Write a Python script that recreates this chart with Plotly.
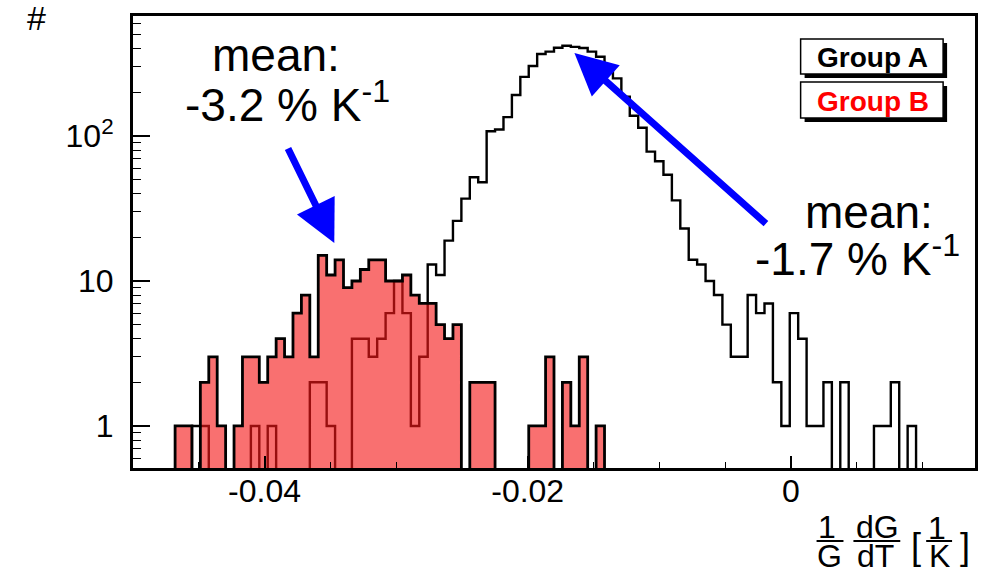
import numpy as np
import plotly.graph_objects as go

# ---------------- data ----------------
x_min, x_max, n_bins = -0.05, 0.014, 100

group_a_counts = [
    0, 0, 0, 0, 0, 0, 0, 1, 1, 0,
    0, 0, 0, 0, 1, 0, 1, 0, 0, 0,
    0, 2, 2, 1, 0, 0, 4, 4, 3, 4,
    6, 10, 6, 1, 3, 13, 11, 19, 26, 37,
    52, 48, 108, 111, 135, 192, 256, 304, 368, 382,
    406, 420, 412, 405, 382, 352, 302, 250, 187, 138,
    114, 78, 67, 54, 36, 23, 14, 13, 10, 8,
    5, 3, 3, 8, 6, 7, 2, 1, 6, 4,
    1, 1, 2, 0, 2, 0, 0, 0, 1, 1,
    2, 0, 1, 0, 0, 0, 0, 0, 0, 0,
]
group_b_counts = [
    0, 0, 0, 0, 0, 1, 1, 0, 2, 3,
    1, 0, 1, 3, 3, 2, 3, 4, 3, 6,
    8, 3, 15, 11, 14, 9, 10, 12, 14, 14,
    10, 10, 11, 8, 7, 7, 5, 4, 5, 0,
    2, 2, 2, 0, 0, 0, 0, 1, 1, 3,
    0, 2, 1, 3, 0, 1, 0, 0, 0, 0,
    0, 0, 0, 0, 0, 0, 0, 0, 0, 0,
    0, 0, 0, 0, 0, 0, 0, 0, 0, 0,
    0, 0, 0, 0, 0, 0, 0, 0, 0, 0,
    0, 0, 0, 0, 0, 0, 0, 0, 0, 0,
]
series_names = ["Group A", "Group B"]
y_tick_vals = [1, 10, 100]
y_tick_text = ["1", "10", "10<sup>2</sup>"]
x_tick_vals = [-0.04, -0.02, 0]
x_tick_text = ["-0.04", "-0.02", "0"]
mean_a_text = "-1.7 % K<sup>-1</sup>"
mean_b_text = "-3.2 % K<sup>-1</sup>"

# ---------------- helpers ----------------
edges = np.linspace(x_min, x_max, n_bins + 1)
FLOOR = 1e-2  # empty bins drawn below the visible range (log axis)


def steps(counts):
    xs, ys = [edges[0]], [FLOOR]
    for i, c in enumerate(counts):
        v = c if c > 0 else FLOOR
        xs += [edges[i], edges[i + 1]]
        ys += [v, v]
    xs.append(edges[-1])
    ys.append(FLOOR)
    return xs, ys


W, H = 989, 577
L, R, T, B = 133, 978, 16, 468


def px(xp):
    return (xp - L) / (R - L)


def py(yp):
    return (B - yp) / (B - T)


FONT = "Liberation Sans, Arial, Helvetica, sans-serif"

fig = go.Figure()

xa, ya = steps(group_a_counts)
fig.add_trace(go.Scatter(x=xa, y=ya, mode="lines", name=series_names[0],
                         line=dict(color="black", width=2.4), showlegend=False))
xb, yb = steps(group_b_counts)
fig.add_trace(go.Scatter(x=xb, y=yb, mode="lines", name=series_names[1],
                         fill="toself", fillcolor="rgba(245,25,25,0.62)",
                         line=dict(color="black", width=2.8), showlegend=False))

ann = []
shapes = []


def text(t, cx, cy, size, color="black", height=None):
    d = dict(x=px(cx), y=py(cy), text=t, showarrow=False,
             xanchor="center", yanchor="middle", borderpad=0,
             font=dict(size=size, color=color, family=FONT))
    if height is not None:
        d["height"] = height
    ann.append(d)


# mean annotations
text("mean:", 277, 55, 46)
text(mean_b_text, 288, 102, 46)
text("mean:", 872, 212, 46)
text(mean_a_text, 860, 256, 46)

# arrows
ann.append(dict(x=px(335), y=py(243), text="",
                showarrow=True, ax=288 - 335, ay=147 - 243, arrowcolor="#0000ff",
                arrowwidth=7, arrowhead=2, arrowsize=1.2))
ann.append(dict(x=px(576), y=py(53), text="",
                showarrow=True, ax=769 - 576, ay=225 - 53, arrowcolor="#0000ff",
                arrowwidth=7, arrowhead=2, arrowsize=1.2))

# y-axis title
text("#", 36, 18, 34)

# x-axis title: (1/G)(dG/dT)[1/K]
for t, cx, cy in [("1", 829, 527), ("G", 832, 556), ("dG", 880, 527), ("dT", 878, 556),
                  ("1", 940, 528), ("K", 942, 556)]:
    text(t, cx, cy, 32, height=26)
for t, cx in [("[", 919), ("]", 968)]:
    text(t, cx, 546, 36)
for x0, x1, yy in [(819, 846, 541), (856, 903, 541), (929, 955, 541)]:
    shapes.append(dict(type="line", xref="paper", yref="paper",
                       x0=px(x0), x1=px(x1), y0=py(yy), y1=py(yy),
                       line=dict(color="black", width=2)))

# legend boxes (ROOT style with shadow)
for (x0, x1, y0, y1), name, col in [((803, 946, 39, 74), series_names[0], "black"),
                                     ((803, 946, 82, 118), series_names[1], "red")]:
    shapes.append(dict(type="rect", xref="paper", yref="paper",
                       x0=px(x0 + 4), x1=px(x1 + 4), y0=py(y0 + 4), y1=py(y1 + 4),
                       fillcolor="black", line=dict(width=0)))
    shapes.append(dict(type="rect", xref="paper", yref="paper",
                       x0=px(x0), x1=px(x1), y0=py(y0), y1=py(y1),
                       fillcolor="white", line=dict(color="black", width=1.5)))
    text("<b>%s</b>" % name, (x0 + x1) / 2 + 1, (y0 + y1) / 2 + 1, 28, col)

for a in ann:
    a.setdefault("xref", "paper")
    a.setdefault("yref", "paper")

fig.update_layout(
    width=W, height=H,
    margin=dict(l=L, r=W - R, t=T, b=H - B, pad=0),
    paper_bgcolor="white", plot_bgcolor="white",
    font=dict(family=FONT, color="black"),
    annotations=ann, shapes=shapes,
    xaxis=dict(range=[x_min, x_max], showgrid=False, zeroline=False,
               showline=True, linecolor="black", linewidth=3, mirror=True,
               ticks="inside", ticklen=12, tickwidth=1.5, tickcolor="black",
               tickvals=x_tick_vals, ticktext=x_tick_text,
               tickfont=dict(size=32, family=FONT, color="black"),
               ticklabelstandoff=-7,
               minor=dict(ticks="inside", ticklen=6, tickwidth=1.2, dtick=0.005,
                          tick0=0, tickcolor="black", showgrid=False)),
    yaxis=dict(type="log", range=[-0.29, 2.828], showgrid=False, zeroline=False,
               showline=True, linecolor="black", linewidth=3, mirror=True,
               ticks="inside", ticklen=17, tickwidth=1.5, tickcolor="black",
               tickvals=y_tick_vals, ticktext=y_tick_text,
               tickfont=dict(size=32, family=FONT, color="black"),
               ticklabelstandoff=10,
               minor=dict(ticks="inside", ticklen=8, tickwidth=1.2, dtick="D1",
                          tickcolor="black", showgrid=False)),
    showlegend=False,
)

fig.write_html("out.html")
